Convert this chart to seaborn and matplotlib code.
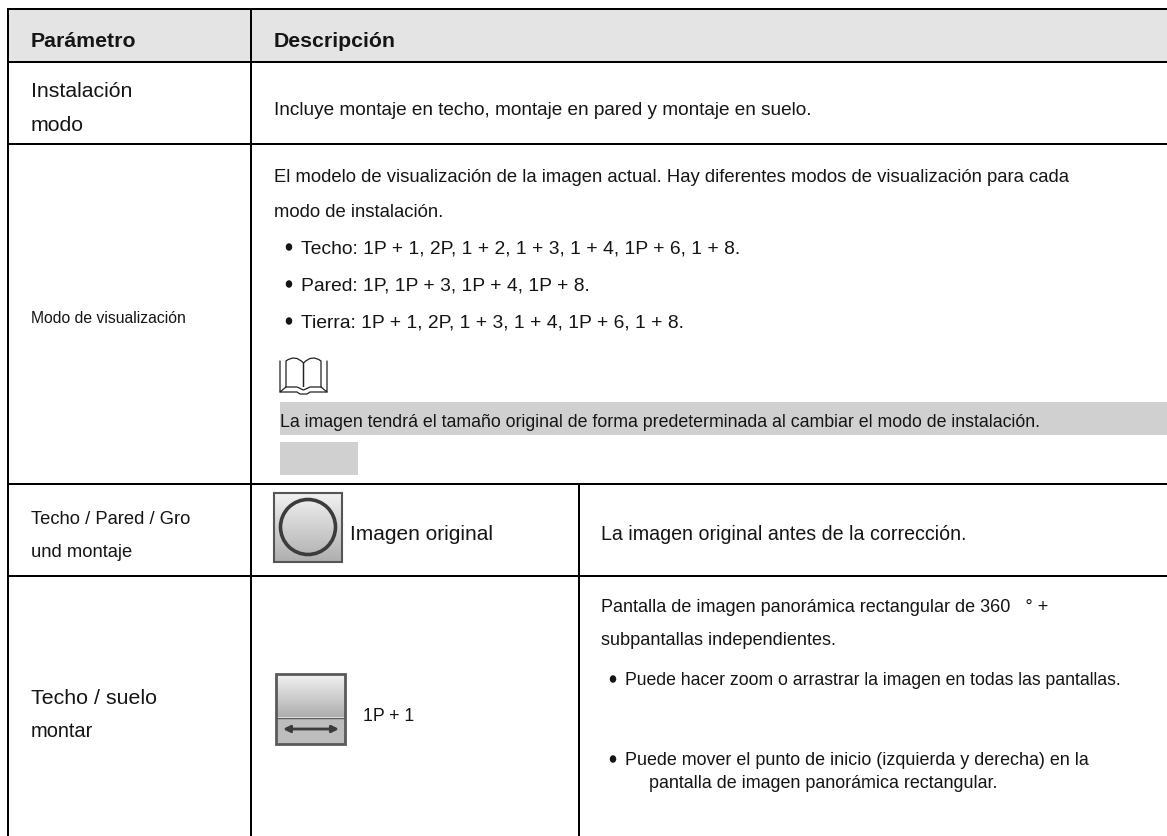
import matplotlib
matplotlib.use("Agg")
import matplotlib.pyplot as plt
from matplotlib.patches import Rectangle, Ellipse, FancyArrowPatch, PathPatch
from matplotlib.path import Path
import numpy as np
import seaborn as sns

sns.set_theme(style="white")
plt.rcParams["font.family"] = ["Liberation Sans", "DejaVu Sans"]

W, H = 1167, 837
LINE = "#000000"
HEAD = "#e4e4e4"
NOTE = "#d0d0d0"
INK = "#151515"

x_cols = [8, 251]
x_split = 579
y_rows = [10, 63, 145, 485, 577]

header_texts = [(31, 46.5, "Parámetro"), (274, 46.5, "Descripción")]
param_texts = [
    (31, 97, "Instalación", 15.3),
    (31, 131, "modo", 15.3),
    (31, 323, "Modo de visualización", 11.3),
    (31, 524, "Techo / Pared / Gro", 13.2),
    (31, 557, "und montaje", 13.2),
    (31, 704, "Techo / suelo", 15.4),
    (31, 737, "montar", 14.4),
]
body_texts = [
    (274, 115, "Incluye montaje en techo, montaje en pared y montaje en suelo.", 13.7),
    (274, 182, "El modelo de visualización de la imagen actual. Hay diferentes modos de visualización para cada", 13.3),
    (274, 217, "modo de instalación.", 13.3),
    (301, 253, "Techo: 1P + 1, 2P, 1 + 2, 1 + 3, 1 + 4, 1P + 6, 1 + 8.", 13.9),
    (301, 290, "Pared: 1P, 1P + 3, 1P + 4, 1P + 8.", 13.9),
    (301, 327, "Tierra: 1P + 1, 2P, 1 + 3, 1 + 4, 1P + 6, 1 + 8.", 13.9),
    (280, 427, "La imagen tendrá el tamaño original de forma predeterminada al cambiar el modo de instalación.", 12.8),
    (350, 540, "Imagen original", 15),
    (363, 721, "1P + 1", 12.7),
    (601, 540, "La imagen original antes de la corrección.", 14.1),
    (601, 612, "Pantalla de imagen panorámica rectangular de 360   ° +", 13),
    (601, 645, "subpantallas independientes.", 13.1),
    (625, 685, "Puede hacer zoom o arrastrar la imagen en todas las pantallas.", 12.7),
    (625, 765, "Puede mover el punto de inicio (izquierda y derecha) en la", 12.9),
    (649, 788, "pantalla de imagen panorámica rectangular.", 12.9),
]
bullets = [(286, 253), (286, 290), (286, 327), (610, 685), (610, 765)]

fig = plt.figure(figsize=(W / 100, H / 100), dpi=100, facecolor="white")
ax = fig.add_axes([0, 0, 1, 1])
ax.axis("off")

# header band
ax.add_patch(Rectangle((x_cols[0], y_rows[0]), W - x_cols[0], y_rows[1] - y_rows[0], fc=HEAD, ec="none"))
# grey note bands
ax.add_patch(Rectangle((280, 403), 887, 33, fc=NOTE, ec="none"))
ax.add_patch(Rectangle((280, 443), 78, 33, fc=NOTE, ec="none"))

# grid
lw = 2.0 * 72 / 100
for y in y_rows:
    ax.plot([x_cols[0] - 1, W], [y, y], color=LINE, lw=lw, solid_capstyle="butt")
for x in x_cols:
    ax.plot([x, x], [y_rows[0], H], color=LINE, lw=lw, solid_capstyle="butt")
ax.plot([x_split, x_split], [y_rows[3], H], color=LINE, lw=lw, solid_capstyle="butt")

# text
for x, y, s in header_texts:
    ax.text(x, y, s, fontsize=15.3, fontweight="bold", color=INK, va="baseline")
for x, y, s, fs in param_texts + body_texts:
    ax.text(x, y, s, fontsize=fs, color=INK, va="baseline")
for x, y in bullets:
    ax.add_patch(Ellipse((x + 3, y - 5), 6.5, 7.5, fc=INK, ec="none"))

# icons
grad = np.linspace(0.95, 0.68, 64).reshape(-1, 1)
ax.imshow(grad, extent=(273, 343, 564, 493), cmap="gray", vmin=0, vmax=1, aspect="auto", zorder=2)
ax.add_patch(Rectangle((274, 494), 68, 69, fc="none", ec="#555555", lw=1.5, zorder=3))
ax.add_patch(Ellipse((308, 528), 55, 55, fc="none", ec="#3c3c3c", lw=2.6, zorder=3))

ax.imshow(grad, extent=(276, 345, 718, 675), cmap="gray", vmin=0, vmax=1, aspect="auto", zorder=2)
ax.add_patch(Rectangle((276, 719), 69, 26, fc="#bdbdbd", ec="none", zorder=2))
ax.add_patch(Rectangle((276, 675), 69, 70, fc="none", ec="#5a5a5a", lw=2.0, zorder=3))
ax.plot([276, 345], [719, 719], color="#5a5a5a", lw=1.0, zorder=3)
ax.add_patch(FancyArrowPatch((283, 730), (339, 730), arrowstyle="<|-|>", mutation_scale=10, color="#3c3c3c", lw=2.0, shrinkA=0, shrinkB=0, zorder=4))

# book icon: two arched pages, outer frame and notched base
book_lw = 0.9
book_ink = "#222222"
for page in (
    [(286, 388), (286, 362), (295, 355), (303.5, 364), (303.5, 388)],
    [(321, 388), (321, 362), (312, 355), (303.5, 364), (303.5, 388)],
):
    codes = [Path.MOVETO, Path.LINETO, Path.CURVE3, Path.CURVE3, Path.LINETO]
    ax.add_patch(PathPatch(Path(page, codes), fc="none", ec=book_ink, lw=book_lw))
ax.plot([280, 280, 286], [362, 393, 388], color=book_ink, lw=book_lw)
ax.plot([327, 327, 321], [362, 393, 388], color=book_ink, lw=book_lw)
ax.plot([280, 297, 300, 307, 310, 327], [393, 393, 395, 395, 393, 393], color=book_ink, lw=book_lw)
ax.plot([286, 297, 303.5, 310, 321], [388, 388, 391, 388, 388], color=book_ink, lw=book_lw)

ax.set_xlim(0, W)
ax.set_ylim(H, 0)
fig.savefig("out.png", dpi=100)
